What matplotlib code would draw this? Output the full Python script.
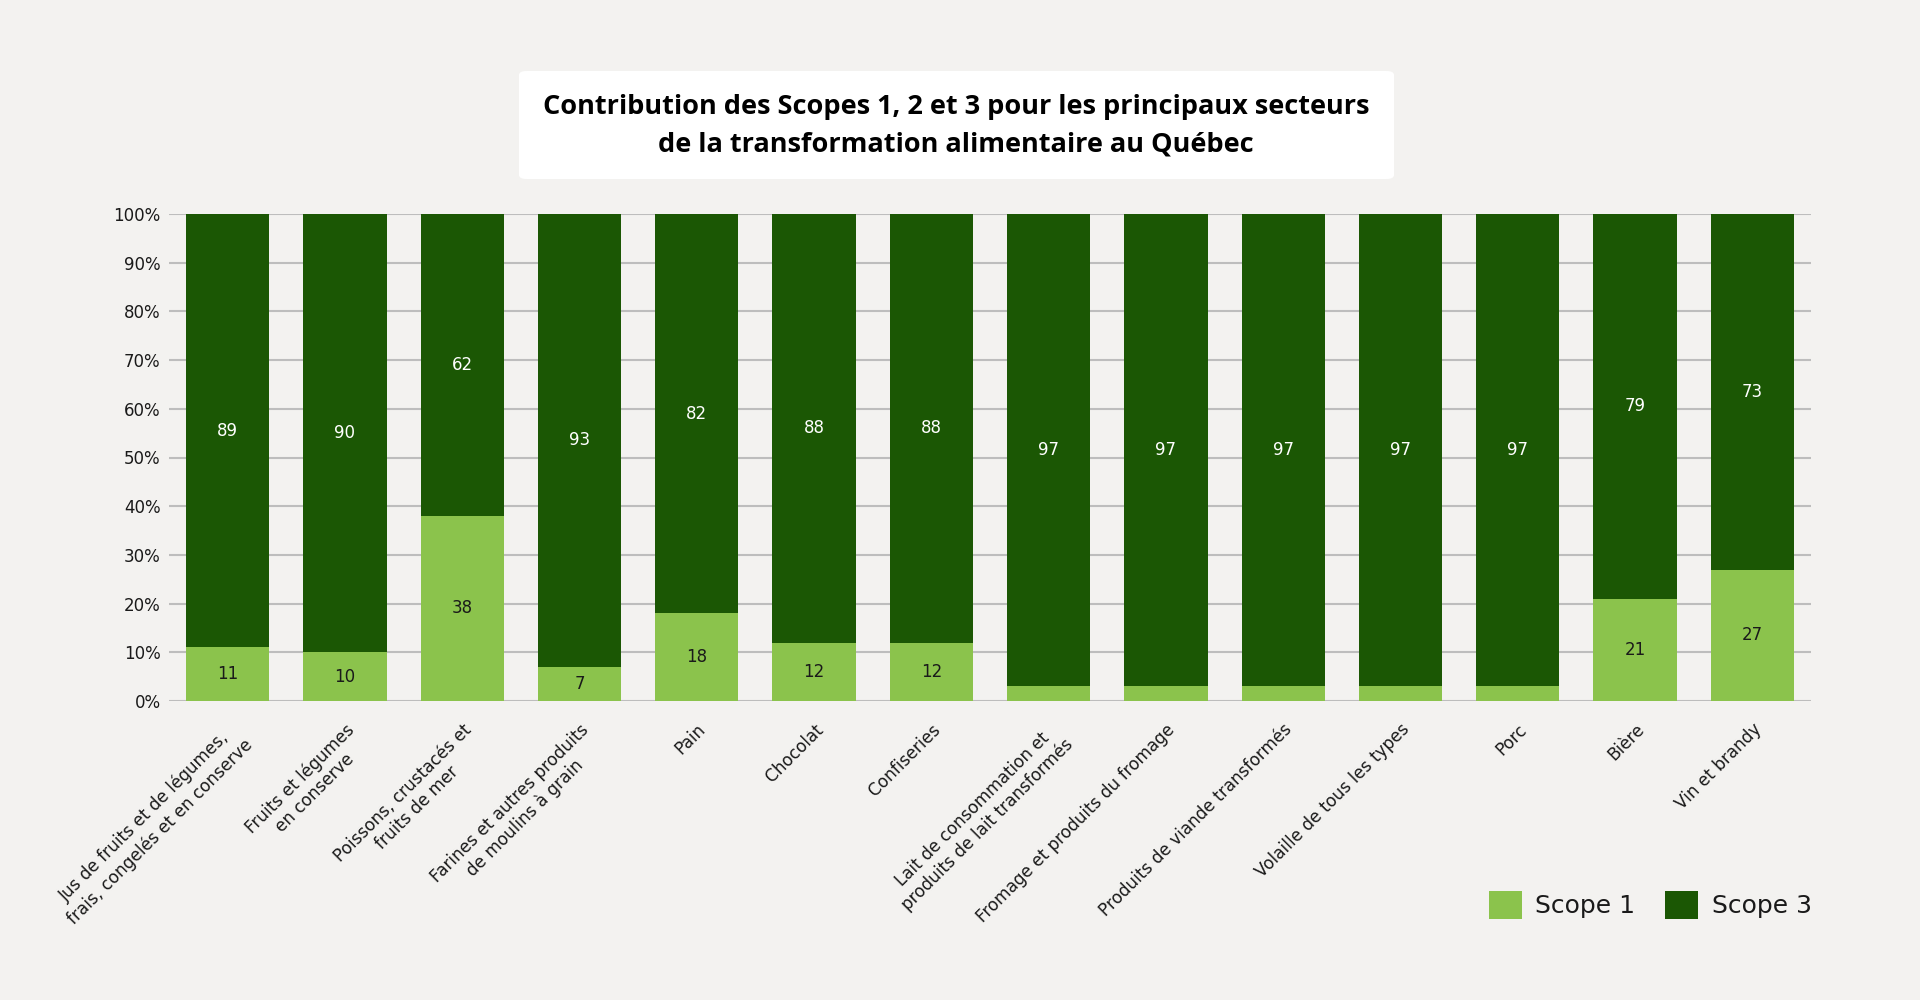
import numpy as np
import matplotlib.pyplot as plt
from matplotlib.patches import FancyBboxPatch
from matplotlib.transforms import ScaledTranslation

# data
categories = [
    "Jus de fruits et de légumes,\nfrais, congelés et en conserve",
    "Fruits et légumes\nen conserve",
    "Poissons, crustacés et\nfruits de mer",
    "Farines et autres produits\nde moulins à grain",
    "Pain",
    "Chocolat",
    "Confiseries",
    "Lait de consommation et\nproduits de lait transformés",
    "Fromage et produits du fromage",
    "Produits de viande transformés",
    "Volaille de tous les types",
    "Porc",
    "Bière",
    "Vin et brandy",
]
scope1 = [11, 10, 38, 7, 18, 12, 12, 3, 3, 3, 3, 3, 21, 27]
scope3 = [89, 90, 62, 93, 82, 88, 88, 97, 97, 97, 97, 97, 79, 73]
yticks = [0, 10, 20, 30, 40, 50, 60, 70, 80, 90, 100]

BG = "#f3f2f0"
LIGHT = "#8bc34c"
DARK = "#1b5704"
GRID = "#bdbdbd"
TXT = "#1a1a1a"

plt.rcParams['font.family'] = ['DejaVu Sans']

fig = plt.figure(figsize=(19.2, 10), dpi=100, facecolor=BG)
ax = fig.add_axes([169/1920, 1-701/1000, (1811-169)/1920, (701-214)/1000])
ax.set_facecolor(BG)

x = np.arange(len(categories))
w = 0.71
b1 = ax.bar(x, scope1, width=w, color=LIGHT, zorder=3, label="Scope 1")
b3 = ax.bar(x, scope3, width=w, bottom=scope1, color=DARK, zorder=3, label="Scope 3")

# segment labels (the 3% slivers are left unlabelled, as in the original)
for i in range(len(x)):
    if scope1[i] >= 5:
        ax.text(x[i], scope1[i] / 2, str(scope1[i]), ha='center', va='center',
                fontsize=12, color=TXT, zorder=4)
    ax.text(x[i], scope1[i] + scope3[i] / 2, str(scope3[i]), ha='center', va='center',
            fontsize=12, color='white', zorder=4)

ax.set_xlim(-0.5, len(x) - 0.5)
ax.set_ylim(0, 100)
ax.set_yticks(yticks)
ax.set_yticklabels([f"{v}%" for v in yticks], fontsize=12, color=TXT)
ax.yaxis.grid(True, color=GRID, linewidth=1.5, zorder=0)
ax.set_axisbelow(True)
for s in ax.spines.values():
    s.set_visible(False)
ax.tick_params(axis='both', length=0)
ax.tick_params(axis='y', pad=6)
ax.tick_params(axis='x', pad=14)

ax.set_xticks(x)
ax.set_xticklabels(categories, rotation=45, ha='right', rotation_mode='anchor',
                   fontsize=12.2, color=TXT, multialignment='center')
offset = ScaledTranslation(0, 0, fig.dpi_scale_trans)
for lbl in ax.get_xticklabels():
    lbl.set_transform(lbl.get_transform() + offset)

# title box
box = FancyBboxPatch((519/1920, 1-179/1000), (1394-519)/1920, (179-71)/1000,
                     boxstyle="round,pad=0,rounding_size=0.004",
                     transform=fig.transFigure, facecolor='white', edgecolor='none')
fig.patches.append(box)
fig.text(956/1920, 1-126/1000,
         "Contribution des Scopes 1, 2 et 3 pour les principaux secteurs\nde la transformation alimentaire au Québec",
         ha='center', va='center', fontsize=19.5, fontweight='bold', color='black',
         family='Open Sans', linespacing=1.6)

fig.legend(handles=[b1, b3], labels=["Scope 1", "Scope 3"], loc='center right',
           bbox_to_anchor=(1834/1920, 1-905/1000), ncol=2, frameon=False,
           fontsize=18, handlelength=1.3, handleheight=1.3, handletextpad=0.55,
           columnspacing=1.2, labelcolor=TXT)

fig.savefig("out.png", dpi=100, facecolor=BG)
